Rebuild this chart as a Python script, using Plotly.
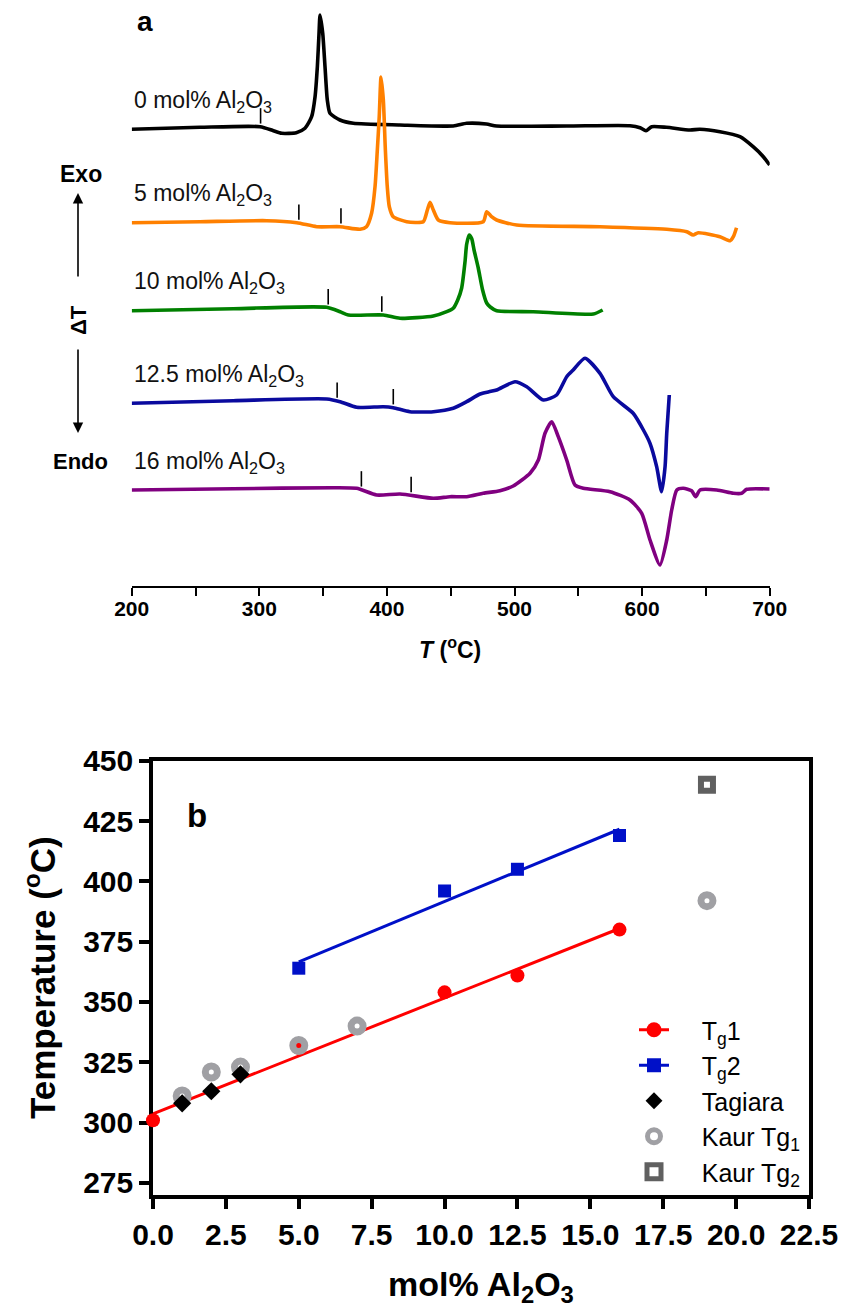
import numpy as np
import plotly.graph_objects as go

W, H = 845, 1311
FONT = "Liberation Sans, Arial, sans-serif"

# ---------------- Panel a : DSC traces ----------------
# temperature (°C) and ΔT signal (arbitrary units, 0 = start of each trace)
T_0 = [200, 253.5, 300.6, 311, 317.5, 329, 335.8, 341, 343.7, 345.5, 346.8, 347.6, 349.7, 351.5,
       353.3, 355.4, 363.2, 373.7, 410, 452, 462.5, 478, 486, 541, 590.5, 598.4, 603, 607.5, 619,
       637.5, 645.3, 661, 676.7, 687, 695, 700]
S_0 = [0, 2, 2.6, -1.4, -4, -3.4, 1, 12.6, 32.6, 62.6, 96, 114.3, 96, 62.6,
       29.3, 16, 9.3, 6, 4.3, 3.3, 6, 5.3, 3.3, 3.3, 3.6, 1.6, -1.4, 2.6, 2,
       -0.7, 0, -2.4, -7.4, -17.4, -27.4, -35.7]

T_5 = [200, 253.5, 305.8, 329.3, 345, 363.2, 379, 384, 388, 390.7, 392.5, 394, 395.4, 397.2,
       398.8, 400.3, 401.9, 405, 415.5, 428.5, 431.7, 433.8, 436.4, 440.3, 449.5, 475.5, 478.2,
       482, 486, 501.7, 567, 619.3, 635, 640, 644, 661, 669, 671.5, 674]
S_5 = [0, 1, 2, 0, -4, -4, -6.6, -4, 9.4, 36, 72.7, 106, 145.7, 122.7,
       72.7, 36, 16, 6, 1, 1, 12.7, 20.4, 12.7, 2.7, 0, 1, 11,
       6, 2.7, -2.3, -4, -6.6, -9, -12.3, -10, -14, -18, -14, -5]

T_10 = [200, 279.6, 352.8, 363.3, 369.8, 397.2, 410.3, 436.4, 446.9, 452, 455.5, 458.6, 461.2,
        462.5, 464.5, 466.5, 468.3, 471.6, 475, 478.2, 481, 486, 514.7, 561.8, 569.1]
S_10 = [0, 2, 3.4, -1, -4.3, -4.3, -7.6, -5.3, -1, 2.4, 10.7, 22.7, 48.7,
        66.4, 75.7, 72, 60.7, 42.7, 20.7, 7.7, 3.7, 0, -1, -3.3, 0.7]

T_125 = [200, 279.6, 352.8, 363.3, 376.3, 397.2, 405, 418, 436.4, 452, 462.5, 473, 480, 486,
         500.4, 509.6, 522.6, 533, 540.9, 546, 555.2, 567, 577.4, 593, 601, 606.2, 611.4, 615.3,
         618, 619.3, 621.3]
S_125 = [0, 2.6, 4.3, 1.6, -4, -3.4, -4.4, -8.4, -8.4, -5, 1.6, 9.3, 11.5, 13.3,
         21.6, 16.6, 3.3, 8.3, 26.6, 33.3, 45, 30, 6.6, -10, -26.7, -40, -63.4, -88.4,
         -63.4, -30, 8.3]

T_16 = [200, 279.6, 358, 376.3, 392, 410.3, 436.4, 449.4, 462.5, 475.5, 488.6, 499, 512.2, 518.7,
        523.9, 529.2, 534.3, 540.9, 547.4, 553.9, 574.9, 590.5, 599.7, 606.2, 614, 619.3, 623.2,
        627.2, 632.3, 638.8, 642, 645.4, 658.5, 671.5, 678, 682, 700]
S_16 = [0, 1.3, 2.3, 1.7, -5, -4, -8.3, -6.7, -6.7, -3.3, -0.7, 4, 16.7, 30,
        56.7, 68.3, 53.3, 30, 5, 1.7, -1.7, -10, -23.3, -50, -75, -50, -20,
        0, 1.7, -0.7, -6.7, 0, 0, -3.3, -3.3, 0.7, 1]

dsc_labels = ["0", "5", "10", "12.5", "16"]
dsc_T = [T_0, T_5, T_10, T_125, T_16]
dsc_S = [S_0, S_5, S_10, S_125, S_16]
dsc_offsets = [456.7, 363.3, 275.3, 182.7, 96.0]
dsc_colors = ["#000000", "#FF8000", "#008000", "#0A0A9E", "#800080"]

# ---------------- Panel b : Tg vs composition ----------------
mol = [0, 5, 10, 12.5, 16]
tg1 = [301, 331, 354, 361, 380]
mol2 = [5, 10, 12.5, 16]
tg2 = [364, 396, 405, 419]
tagiara_mol = [1, 2, 3]
tagiara_tg = [308, 313, 320]
kaur_mol = [1, 2, 3, 5, 7, 19]
kaur_tg1 = [311, 321, 323, 332, 340, 392]
kaur2_mol = [19]
kaur_tg2 = [440]


def px(x):
    return x / W


def py(y):
    return 1 - y / H


fig = go.Figure()

# ---- panel a traces
for i, lab in enumerate(dsc_labels):
    T = np.array(dsc_T[i])
    S = np.array(dsc_S[i]) + dsc_offsets[i]
    fig.add_trace(go.Scatter(x=T, y=S, mode="lines", xaxis="x", yaxis="y",
                             line=dict(color=dsc_colors[i], width=3.6, shape="spline", smoothing=0.6),
                             showlegend=False, hoverinfo="skip"))
    comp = mol[i]
    marks = [tg1[i]] + ([tg2[mol2.index(comp)]] if comp in mol2 else [])
    mh = [np.interp(t, T, S) + 11 for t in marks]
    fig.add_trace(go.Scatter(x=marks, y=mh, mode="markers", xaxis="x", yaxis="y",
                             marker=dict(symbol="line-ns", size=11, line=dict(color="black", width=1.6)),
                             showlegend=False, hoverinfo="skip"))

annotations = []
for i, lab in enumerate(dsc_labels):
    annotations.append(dict(x=200, y=dsc_offsets[i] + 28, xref="x", yref="y", xanchor="left",
                            yanchor="middle", showarrow=False,
                            text=f"{lab} mol% Al<sub>2</sub>O<sub>3</sub>",
                            font=dict(family=FONT, size=23, color="#111")))

# ---- panel b traces
c1 = np.polyfit(mol, tg1, 1)
c2 = np.polyfit(mol2, tg2, 1)
fx1 = np.array([min(mol), max(mol)])
fx2 = np.array([min(mol2), max(mol2)])

RED = "#FF0000"
BLUE = "#0010C8"
common = dict(xaxis="x2", yaxis="y2", cliponaxis=False, hoverinfo="skip")

fig.add_trace(go.Scatter(x=fx1, y=np.polyval(c1, fx1), mode="lines", line=dict(color=RED, width=3),
                         showlegend=False, **common))
fig.add_trace(go.Scatter(x=fx2, y=np.polyval(c2, fx2), mode="lines", line=dict(color=BLUE, width=3),
                         showlegend=False, **common))
fig.add_trace(go.Scatter(x=mol, y=tg1, mode="markers", marker=dict(symbol="circle", size=14, color=RED),
                         showlegend=False, **common))
fig.add_trace(go.Scatter(x=mol2, y=tg2, mode="markers", marker=dict(symbol="square", size=13, color=BLUE),
                         showlegend=False, **common))
fig.add_trace(go.Scatter(x=kaur_mol, y=kaur_tg1, mode="markers",
                         marker=dict(symbol="circle-open", size=12, color="#A0A0A4", line=dict(width=7)),
                         showlegend=False, **common))
fig.add_trace(go.Scatter(x=kaur2_mol, y=kaur_tg2, mode="markers",
                         marker=dict(symbol="square", size=12, color="white", line=dict(width=6, color="#606060")),
                         showlegend=False, **common))
fig.add_trace(go.Scatter(x=tagiara_mol, y=tagiara_tg, mode="markers",
                         marker=dict(symbol="diamond", size=14, color="black"),
                         showlegend=False, **common))

# legend-only entries
NB = "\u00a0" * 4
leg = [
    (f"{NB}T<sub>g</sub>1", "lines+markers", dict(symbol="circle", size=15, color=RED), dict(color=RED, width=3)),
    (f"{NB}T<sub>g</sub>2", "lines+markers", dict(symbol="square", size=14, color=BLUE), dict(color=BLUE, width=3)),
    (f"{NB}Tagiara", "markers", dict(symbol="diamond", size=13, color="black"), None),
    (f"{NB}Kaur Tg<sub>1</sub>", "markers", dict(symbol="circle-open", size=13, color="#A0A0A4", line=dict(width=5)), None),
    (f"{NB}Kaur Tg<sub>2</sub>", "markers", dict(symbol="square", size=14, color="white", line=dict(width=5, color="#606060")), None),
]
for r, (name, mode, mk, ln) in enumerate(leg):
    kw = dict(line=ln) if ln else {}
    fig.add_trace(go.Scatter(x=[None], y=[None], mode=mode, marker=mk, name=name, legendrank=r + 1,
                             legendgroup=f"g{r}", xaxis="x2", yaxis="y2", showlegend=True, **kw))


def note(xp, yp, text, size, angle=0):
    return dict(x=px(xp), y=py(yp), xref="paper", yref="paper", xanchor="center", yanchor="middle",
                text=text, showarrow=False, textangle=angle,
                font=dict(family=FONT, size=size, color="black"))


# ---- texts / arrows
annotations += [
    note(145, 22, "<b>a</b>", 28),
    note(81, 174, "<b>Exo</b>", 23),
    note(80, 462, "<b>Endo</b>", 22),
    note(78, 320, "<b>ΔT</b>", 22, -90),
    dict(x=px(78), y=py(193), xref="paper", yref="paper", ax=0, ay=85, text="", showarrow=True,
         arrowhead=2, arrowsize=1.3, arrowwidth=1.6, arrowcolor="black"),
    dict(x=px(78), y=py(433), xref="paper", yref="paper", ax=0, ay=-85, text="", showarrow=True,
         arrowhead=2, arrowsize=1.3, arrowwidth=1.6, arrowcolor="black"),
    note(450, 648, "<b><i>T</i> (<sup>o</sup>C)</b>", 23),
    note(197, 815, "<b>b</b>", 33),
    note(40, 978, "<b>Temperature (<sup>o</sup>C)</b>", 35, -90),
    note(481, 1286, "<b>mol% Al<sub>2</sub>O<sub>3</sub></b>", 34),
]

fig.update_layout(
    width=W, height=H,
    margin=dict(l=0, r=0, t=0, b=0, autoexpand=False),
    paper_bgcolor="white", plot_bgcolor="white",
    font=dict(family=FONT, color="black"),
    annotations=annotations,
    xaxis=dict(domain=[px(131.7), px(769.7)], range=[200, 700], anchor="y", automargin=False,
               showgrid=False, zeroline=False, showline=True, linecolor="black", linewidth=1.8,
               ticks="outside", ticklen=8, tickwidth=1.8, tickcolor="black", dtick=100, tick0=200,
               minor=dict(dtick=50, ticks="outside", ticklen=8, tickwidth=1.8, tickcolor="black", showgrid=False),
               tickfont=dict(family=FONT, size=21, color="black", weight="bold"), ticklabelstandoff=-5),
    yaxis=dict(domain=[py(586), 1], range=[0, 586], visible=False, showgrid=False, automargin=False),
    xaxis2=dict(domain=[px(153), px(809)], range=[0, 22.5], anchor="y2", automargin=False,
                showgrid=False, zeroline=False, showline=True, mirror=True, linecolor="black", linewidth=3.5,
                ticks="outside", ticklen=10, tickwidth=3.5, tickcolor="black", dtick=2.5, tick0=0,
                tickformat=".1f", layer="below traces",
                tickfont=dict(family=FONT, size=30, color="black", weight="bold"), ticklabelstandoff=0),
    yaxis2=dict(domain=[py(1195), py(760.7)], range=[270, 450], anchor="x2", automargin=False,
                showgrid=False, zeroline=False, showline=True, mirror=True, linecolor="black", linewidth=3.5,
                ticks="outside", ticklen=10, tickwidth=3.5, tickcolor="black", dtick=25, tick0=275,
                layer="below traces",
                tickfont=dict(family=FONT, size=30, color="black", weight="bold")),
    legend=dict(x=px(634), y=py(1007), xanchor="left", yanchor="top", bgcolor="rgba(0,0,0,0)",
                font=dict(family=FONT, size=25, color="black"), tracegroupgap=0, itemsizing="trace",
                traceorder="normal"),
    showlegend=True,
)

fig.write_html("out.html", config={"displayModeBar": False},
               post_script="document.body.style.margin='0px';")
